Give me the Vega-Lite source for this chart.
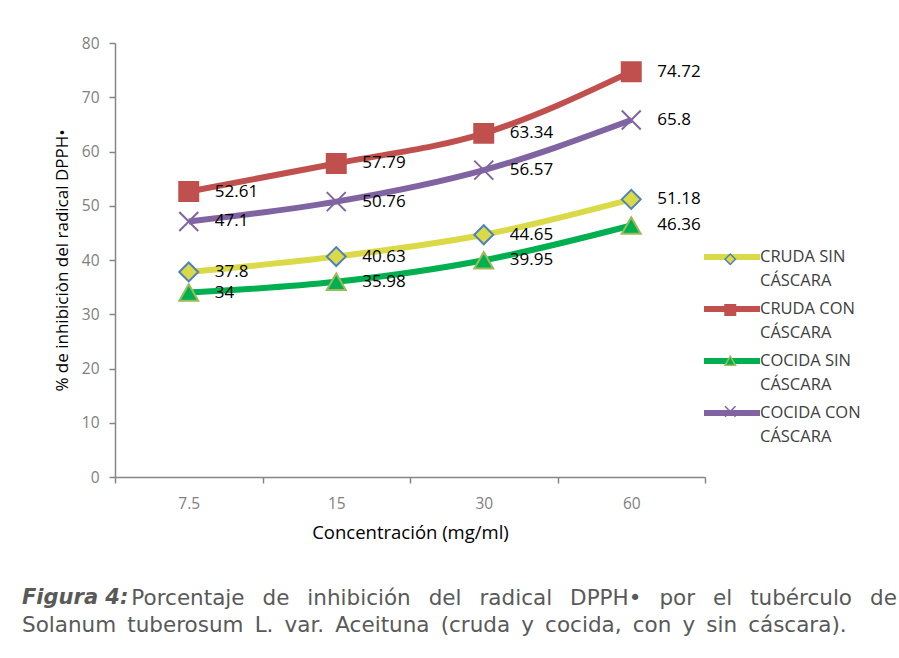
{
  "$schema": "https://vega.github.io/schema/vega-lite/v6.json",
  "width": 590,
  "height": 434,
  "autosize": {"type": "none"},
  "padding": {"left": 115, "top": 43, "right": 194, "bottom": 181},
  "background": "white",
  "config": {
    "view": {"stroke": null},
    "font": "Open Sans",
    "style": {"guide-label": {"lineHeight": 24}}
  },
  "data": {
    "values": [
      {"serie": "CRUDA SIN CÁSCARA", "conc": "7.5", "valor": 37.8},
      {"serie": "CRUDA SIN CÁSCARA", "conc": "15", "valor": 40.63},
      {"serie": "CRUDA SIN CÁSCARA", "conc": "30", "valor": 44.65},
      {"serie": "CRUDA SIN CÁSCARA", "conc": "60", "valor": 51.18},
      {"serie": "CRUDA CON CÁSCARA", "conc": "7.5", "valor": 52.61},
      {"serie": "CRUDA CON CÁSCARA", "conc": "15", "valor": 57.79},
      {"serie": "CRUDA CON CÁSCARA", "conc": "30", "valor": 63.34},
      {"serie": "CRUDA CON CÁSCARA", "conc": "60", "valor": 74.72},
      {"serie": "COCIDA SIN CÁSCARA", "conc": "7.5", "valor": 34},
      {"serie": "COCIDA SIN CÁSCARA", "conc": "15", "valor": 35.98},
      {"serie": "COCIDA SIN CÁSCARA", "conc": "30", "valor": 39.95},
      {"serie": "COCIDA SIN CÁSCARA", "conc": "60", "valor": 46.36},
      {"serie": "COCIDA CON CÁSCARA", "conc": "7.5", "valor": 47.1},
      {"serie": "COCIDA CON CÁSCARA", "conc": "15", "valor": 50.76},
      {"serie": "COCIDA CON CÁSCARA", "conc": "30", "valor": 56.57},
      {"serie": "COCIDA CON CÁSCARA", "conc": "60", "valor": 65.8}
    ]
  },
  "title": {
    "text": "Figura 4:",
    "subtitle": [
      "\u200b\u00a0\u00a0\u00a0\u00a0\u00a0\u00a0\u00a0\u00a0\u00a0\u00a0\u00a0\u00a0\u00a0\u00a0\u00a0\u00a0Porcentaje \u00a0\u2009de \u00a0\u2009inhibición \u00a0\u2009del \u00a0\u2009radical \u00a0\u2009DPPH• \u00a0\u2009por \u00a0\u2009el \u00a0\u2009tubérculo \u00a0\u2009de",
      "Solanum \u2009tuberosum \u2009L. \u2009var. \u2009Aceituna \u2009(cruda \u2009y \u2009cocida, \u2009con \u2009y \u2009sin \u2009cáscara)."
    ],
    "orient": "bottom",
    "anchor": "start",
    "frame": "group",
    "dx": -93,
    "offset": 45,
    "font": "DejaVu Sans",
    "fontSize": 21,
    "fontWeight": "bold",
    "fontStyle": "italic",
    "color": "#595959",
    "subtitleFont": "DejaVu Sans",
    "subtitleFontSize": 21.5,
    "subtitleColor": "#595959",
    "subtitleLineHeight": 27,
    "subtitlePadding": -20
  },
  "encoding": {
    "x": {
      "field": "conc",
      "type": "ordinal",
      "sort": ["7.5", "15", "30", "60"],
      "scale": {"type": "band", "paddingInner": 0, "paddingOuter": 0},
      "axis": {
        "title": "Concentración (mg/ml)",
        "labelAngle": 0,
        "tickBand": "extent",
        "domainColor": "#868686",
        "tickColor": "#868686",
        "tickSize": 6,
        "domainWidth": 1.5,
        "tickWidth": 1.5,
        "labelColor": "#808080",
        "labelFontSize": 15.5,
        "labelFont": "Open Sans",
        "labelPadding": 13,
        "titleFont": "Open Sans",
        "titleFontSize": 18.5,
        "titleFontWeight": "normal",
        "titleColor": "#000000",
        "titlePadding": 12
      }
    },
    "y": {
      "field": "valor",
      "type": "quantitative",
      "scale": {"domain": [0, 80], "nice": false},
      "axis": {
        "title": "% de inhibiciòn del radical  DPPH•",
        "values": [0, 10, 20, 30, 40, 50, 60, 70, 80],
        "grid": false,
        "domainColor": "#868686",
        "tickColor": "#868686",
        "tickSize": 6,
        "domainWidth": 1.5,
        "tickWidth": 1.5,
        "labelColor": "#808080",
        "labelFontSize": 15.5,
        "labelFont": "Open Sans",
        "labelPadding": 10,
        "titleFont": "Open Sans",
        "titleFontSize": 17,
        "titleFontWeight": "normal",
        "titleColor": "#000000",
        "titlePadding": 10
      }
    }
  },
  "layer": [
    {
      "mark": {"type": "line", "strokeWidth": 6, "interpolate": "monotone"},
      "encoding": {
        "color": {
          "field": "serie",
          "type": "nominal",
          "sort": null,
          "scale": {"range": ["#dada48", "#c0504d", "#00b050", "#8064a2"]},
          "legend": {
            "title": null,
            "orient": "none",
            "legendX": 600,
            "legendY": 197,
            "padding": 0,
            "symbolType": "M-2,0L2,0",
            "symbolSize": 784,
            "symbolStrokeWidth": 6,
            "symbolFillColor": "transparent",
            "labelFont": "Open Sans",
            "labelFontSize": 16.5,
            "labelColor": "#404040",
            "labelOffset": 11,
            "rowPadding": 2,
            "labelLimit": 200,
            "labelExpr": "[replace(datum.label, ' CÁSCARA', ''), 'CÁSCARA']"
          }
        }
      }
    },
    {
      "mark": {"type": "point", "filled": true, "size": 360, "strokeWidth": 2, "opacity": 1},
      "encoding": {
        "shape": {
          "field": "serie",
          "type": "nominal",
          "scale": {
            "domain": ["CRUDA SIN CÁSCARA", "CRUDA CON CÁSCARA", "COCIDA SIN CÁSCARA", "COCIDA CON CÁSCARA"],
            "range": ["diamond", "square", "triangle-up", "M-1,-1L1,1M-1,1L1,-1"]
          },
          "legend": {
            "title": null,
            "orient": "none",
            "legendX": 607,
            "legendY": 208,
            "padding": 0,
            "symbolSize": 110,
            "symbolStrokeWidth": 1.5,
            "labelFont": "Open Sans",
            "labelFontSize": 16.5,
            "labelOpacity": 0,
            "labelOffset": 1,
            "rowPadding": 9.75,
            "labelLimit": 200,
            "labelExpr": "[replace(datum.label, ' CÁSCARA', ''), 'CÁSCARA']"
          }
        },
        "fill": {
          "field": "serie",
          "type": "nominal",
          "scale": {
            "domain": ["CRUDA SIN CÁSCARA", "CRUDA CON CÁSCARA", "COCIDA SIN CÁSCARA", "COCIDA CON CÁSCARA"],
            "range": ["#dada48", "#c0504d", "#00b050", "#8064a2"]
          }
        },
        "stroke": {
          "field": "serie",
          "type": "nominal",
          "scale": {
            "domain": ["CRUDA SIN CÁSCARA", "CRUDA CON CÁSCARA", "COCIDA SIN CÁSCARA", "COCIDA CON CÁSCARA"],
            "range": ["#4f81bd", "#c0504d", "#9bbb59", "#8064a2"]
          }
        }
      }
    },
    {
      "mark": {"type": "text", "align": "left", "baseline": "middle", "dx": 26, "fontSize": 17, "font": "Open Sans", "color": "#000000"},
      "encoding": {
        "text": {"field": "valor", "type": "quantitative"}
      }
    }
  ]
}
